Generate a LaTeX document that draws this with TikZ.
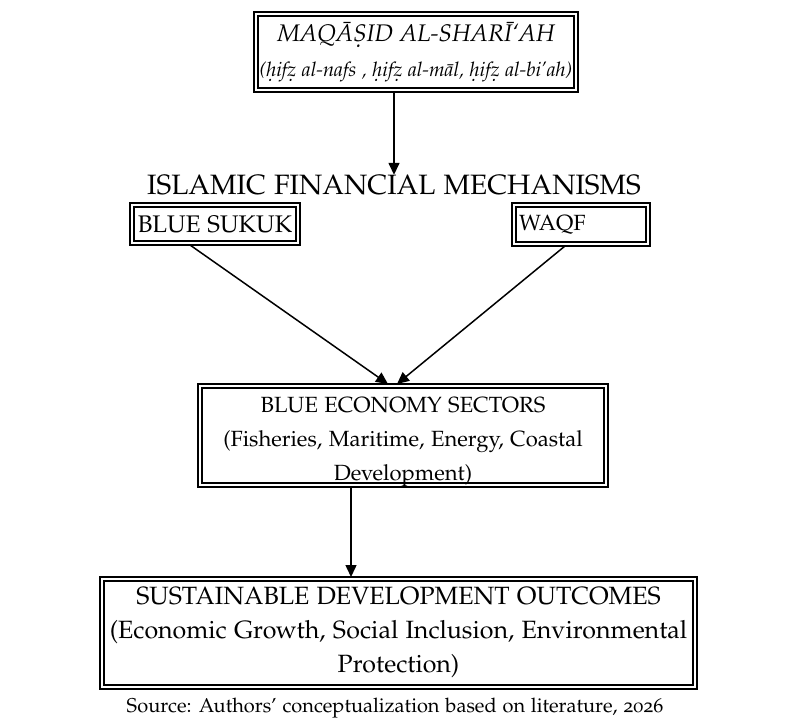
\documentclass[tikz,border=0pt]{standalone}
\usepackage[T1]{fontenc}
\usepackage[osf]{mathpazo}
\usetikzlibrary{arrows.meta}

\newcommand{\fs}[2]{\fontsize{#1}{#2}\selectfont}

\tikzset{
  frame/.style={draw, line width=1.2pt, outer sep=4pt, inner sep=0pt, align=center, font=\fs{24}{34}},
  arr/.style={line width=1.5pt, -{Triangle[length=12pt,width=11pt]}}
}

\begin{document}
\begin{tikzpicture}[x=1pt,y=-1pt]
  \useasboundingbox (0,0) rectangle (794,722);

  \node[frame, minimum width=316pt, minimum height=72pt, font=\fs{24}{35}\itshape] (maq) at (416,52)
    {MAQ\=A\d{S}ID AL-SHAR\=I`AH\\{\fs{20}{35}(\d{h}if\d{z} al-nafs , \d{h}if\d{z} al-m\=al, \d{h}if\d{z} al-bi'ah)}};

  \node[inner sep=0pt, font=\fs{28}{34}] (mech) at (394,185) {ISLAMIC FINANCIAL MECHANISMS};

  \node[frame, minimum width=162pt, minimum height=34pt] (sukuk) at (215,224) {BLUE SUKUK};
  \node[frame, minimum width=130pt, minimum height=35pt, text width=124pt, align=left, font=\fs{22}{34}] (waqf) at (581,224.5) {WAQF};

  % frame first, the three lines sit a little low in it
  \node[frame, minimum width=402pt, minimum height=95pt] (blue) at (403,435.5) {};
  \node[align=center, inner sep=0pt, font=\fs{22}{34}] (bluetext) at (403,442)
    {BLUE ECONOMY SECTORS\\(Fisheries, Maritime, Energy, Coastal\\Development)};

  \node[frame, minimum width=589pt, minimum height=104pt, font=\fs{25}{34}] (sdo) at (398.5,633)
    {SUSTAINABLE DEVELOPMENT OUTCOMES\\(Economic Growth, Social Inclusion, Environmental\\Protection)};

  \node[font=\fs{20}{24}] (src) at (395,708) {Source: Authors' conceptualization based on literature, 2026};

  % heavy outer rule of each double frame
  \foreach \n in {maq,sukuk,waqf,blue,sdo}
    \draw[line width=2.8pt] (\n.south west) rectangle (\n.north east);

  \coordinate (drop) at ([xshift=-52pt]blue.south);

  \draw[arr] (maq.south -| mech.north) -- (mech.north);
  \draw[arr] ([xshift=-25pt]sukuk.south) -- ([xshift=-15pt]blue.north);
  \draw[arr] ([xshift=-16pt]waqf.south) -- ([xshift=-6pt]blue.north);
  \draw[arr] (drop) -- (drop |- sdo.north);
\end{tikzpicture}
\end{document}
